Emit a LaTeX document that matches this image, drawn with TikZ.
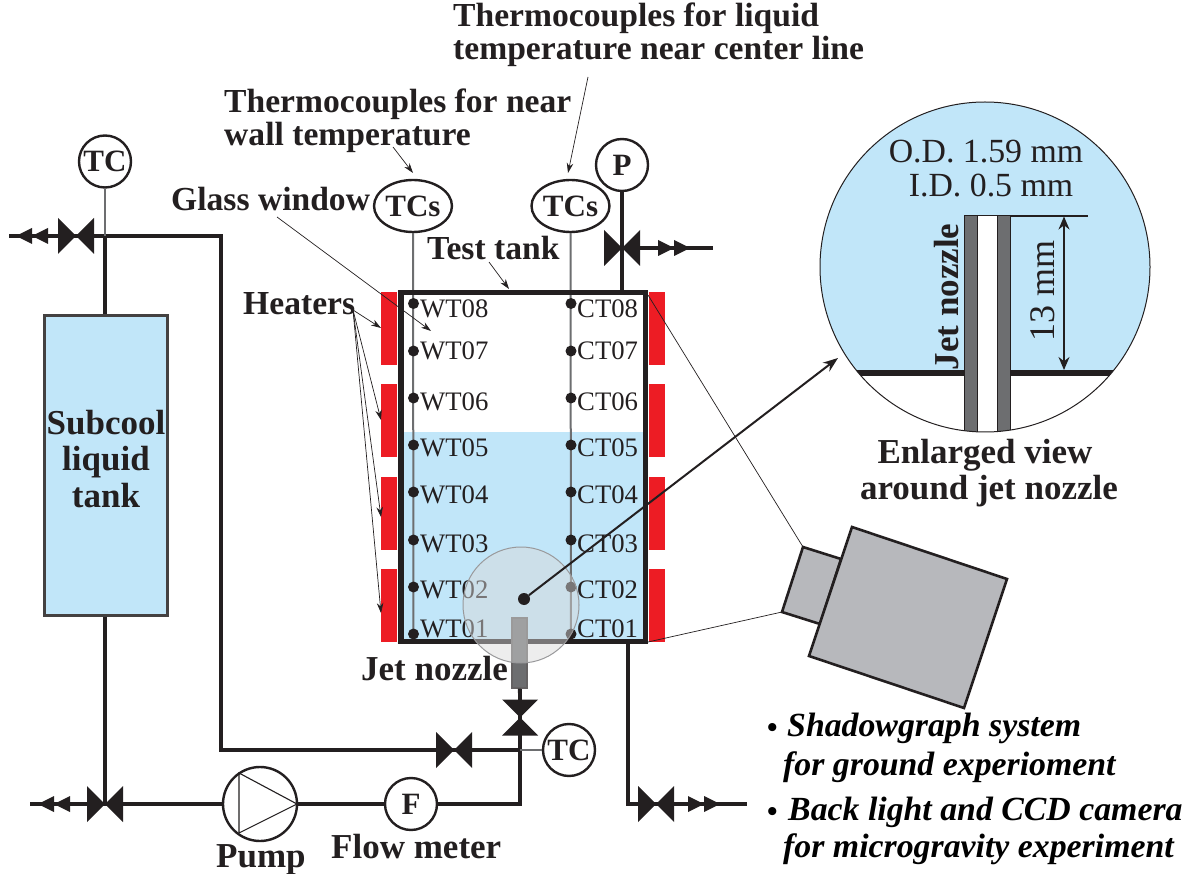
\documentclass[tikz,border=0pt]{standalone}
\usepackage{fontspec}
\setmainfont{Liberation Serif}
\usetikzlibrary{arrows.meta,shapes.geometric}
\definecolor{ink}{HTML}{231F20}
\definecolor{water}{HTML}{C1E6F9}
\definecolor{heat}{HTML}{ED1C24}
\definecolor{wiregray}{HTML}{6D6E70}
\definecolor{camgray}{HTML}{B7B8BC}
\tikzset{
  pipe/.style={draw=ink,line width=3.4pt},
  wire/.style={draw=wiregray,line width=2pt},
  lead/.style={draw=ink,line width=0.7pt,-{Stealth[length=10pt,width=6.5pt]}},
  thinlead/.style={draw=ink,line width=0.7pt},
  inst/.style={circle,draw=ink,line width=2.4pt,fill=white,minimum size=52pt,inner sep=0pt,font=\fontsize{31}{31}\selectfont\bfseries,text=ink},
  instell/.style={ellipse,draw=ink,line width=2.4pt,fill=white,minimum width=74pt,minimum height=52pt,inner sep=0pt,font=\fontsize{31}{31}\selectfont\bfseries,text=ink},
  blab/.style={anchor=base west,inner sep=0pt,text=ink,font=\fontsize{33.6}{33.6}\selectfont\bfseries},
  bigb/.style={font=\fontsize{35}{35}\selectfont\bfseries},
  cblab/.style={anchor=base,inner sep=0pt,text=ink,font=\fontsize{35}{35}\selectfont\bfseries},
  ilab/.style={anchor=base west,inner sep=0pt,text=black,font=\fontsize{33.8}{33.8}\selectfont\bfseries\itshape},
  bullab/.style={anchor=base west,inner sep=0pt,text=black,font=\fontsize{30}{30}\selectfont\bfseries},
  tclab/.style={anchor=base west,inner sep=0pt,text=ink,font=\fontsize{26.7}{26.7}\selectfont},
  rmlab/.style={anchor=base,inner sep=0pt,text=ink,font=\fontsize{33.8}{33.8}\selectfont},
  tdot/.style={circle,fill=ink,inner sep=0pt,minimum size=11pt},
  heater/.style={fill=heat,draw=none},
  pics/valveh/.style={code={\fill[ink] (-18,-18) -- (0,0) -- (-18,18) -- cycle; \fill[ink] (18,-18) -- (0,0) -- (18,18) -- cycle;}},
  pics/valvev/.style={code={\fill[ink] (-18,-18) -- (0,0) -- (18,-18) -- cycle; \fill[ink] (-18,18) -- (0,0) -- (18,18) -- cycle;}},
  pics/flowl/.style={code={\fill[ink] (0,0) -- (16,-8) -- (16,8) -- cycle; \fill[ink] (16,0) -- (32,-8) -- (32,8) -- cycle;}},
  pics/flowr/.style={code={\fill[ink] (0,-8) -- (16,0) -- (0,8) -- cycle; \fill[ink] (16,-8) -- (32,0) -- (16,8) -- cycle;}},
}
\begin{document}
\begin{tikzpicture}[x=1pt,y=-1pt]
\useasboundingbox (0,0) rectangle (1189,874);
% junction coordinates
\coordinate (supL) at (9,236);
\coordinate (supC) at (105,236);
\coordinate (supR) at (221,236);
\coordinate (retL) at (221,750);
\coordinate (retJ) at (520,750);
\coordinate (botL) at (30,804);
\coordinate (botJ) at (105,804);
\coordinate (botR) at (520,804);
\coordinate (pEnd) at (713,248);
\coordinate (pJ) at (622,248);
\coordinate (drJ) at (628,804);
\coordinate (drE) at (747,804);
% test tank interior
\fill[water] (402,432) rectangle (645,641);
\foreach \x/\y in {381/292,381/384,381/477,381/569,649/292,649/384,649/477,649/569}
  \fill[heater] (\x,\y) rectangle +(16,73);
% subcool tank
\node[draw=ink!85!white,line width=3pt,fill=water,minimum width=123pt,minimum height=299pt,inner sep=0pt] (sub) at (105.5,465.5) {};
\node[cblab] (subA) at (106,435) {Subcool};
\node[cblab] (subB) at (106,471) {liquid};
\node[cblab] (subC) at (106,507) {tank};
% instruments
\node[inst] (tcA) at (105,161.5) {TC};
\node[inst] (tcB) at (569,750) {TC};
\node[inst] (pres) at (622,165) {P};
\node[inst] (flow) at (411,804) {F};
\node[instell] (tcsL) at (413,206) {TCs};
\node[instell] (tcsR) at (570.5,206) {TCs};
\node[circle,draw=ink,line width=2.4pt,fill=white,minimum size=74pt,inner sep=0pt] (pump) at (260,804) {};
\draw[ink,line width=1.1pt] (239,773) -- (239,833) -- (297,804) -- cycle;
% tank placeholder for connections
\coordinate (tankTopP) at (622,293);
\coordinate (tankBot) at (628,641);
% pipes
\draw[pipe] (supL) -- (supR) -- (retL) -- (retJ);
\draw[pipe] (supC) -- (sub.north -| supC);
\draw[pipe] (sub.south -| botJ) -- (botJ);
\draw[pipe] (botL) -- (pump.west);
\draw[pipe] (pump.east) -- (flow.west);
\draw[pipe] (flow.east) -- (botR) -- (520,688);
\draw[pipe] (pres.south) -- (tankTopP);
\draw[pipe] (pJ) -- (pEnd);
\draw[pipe] (tankBot) -- (drJ) -- (drE);
\draw[wire] (tcA.south) -- (supC);
\draw[wire] (tcB.west) -- (retJ);
% valves
\pic at (76,236) {valveh};
\pic at (105,804) {valveh};
\pic at (454,750) {valveh};
\pic at (622,248) {valveh};
\pic at (656,804) {valveh};
\pic at (520,717.5) {valvev};
\pic at (16,236) {flowl};
\pic at (38,804) {flowl};
\pic at (658,248) {flowr};
\pic at (688,804) {flowr};
% wires
\draw[wire] (tcsL.south) -- (413.5,634);
\draw[wire] (tcsR.south) -- (571,634);
% thermocouple points
\foreach \n/\d/\b in {8/303.5/318,7/351/360,6/398/411,5/445/456.5,4/492/503.5,3/540/552,2/587/598,1/634/637}{
  \node[tdot] (w\n) at (413.5,\d) {};
  \node[tdot] (c\n) at (571,\d) {};
  \node[tclab] (wl\n) at (420,\b) {WT0\n};
  \node[tclab] (cl\n) at (577,\b) {CT0\n};
}
% tank wall
\draw[ink,line width=5.5pt,miter limit=10] (401,292.5) rectangle (645.5,641.5);
% nozzle
\node[draw=ink!70!white,line width=1.2pt,fill=wiregray,minimum width=15pt,minimum height=70pt,inner sep=0pt] (noz) at (519.5,653) {};
\draw[pipe] (noz.south) -- (520,700);
% magnifier
\node[circle,draw=wiregray!70!white,line width=1pt,fill={rgb:white,85;black,15},fill opacity=.47,minimum size=116pt,inner sep=0pt] (lens) at (521,605) {};
\node[circle,fill=ink,inner sep=0pt,minimum size=12pt] (ldot) at (524,599) {};
% enlarged view
\coordinate (encenter) at (985,267);
\begin{scope}
\clip (encenter) circle (165);
\fill[water] (800,90) rectangle (1170,373);
\fill[ink] (850,370) rectangle (1120,376);
\fill[wiregray] (964,216) rectangle (1010,440);
\fill[white] (977,216) rectangle (997,440);
\draw[ink,line width=1pt] (964,216) -- (964,440) (1010,216) -- (1010,440) (977,216) -- (977,440) (997,216) -- (997,440);
\draw[ink,line width=1pt] (964,216) -- (1010,216);
\end{scope}
\node[circle,draw=ink,line width=1pt,minimum size=330pt,inner sep=0pt] (enl) at (encenter) {};
\coordinate (dimT) at (1064,216.5);
\coordinate (dimB) at (1064,370);
\coordinate (bigTip) at (838,358);
\draw[ink,line width=1.2pt] (1010,216) -- (1088,216);
\draw[ink,line width=1.4pt,{Stealth[length=13pt,width=11pt]}-{Stealth[length=13pt,width=11pt]}] (dimT) -- (dimB);
\node[rmlab] (od) at (986,163) {O.D. 1.59 mm};
\node[rmlab] (id) at (991,197) {I.D. 0.5 mm};
\node[rmlab,rotate=90,font=\fontsize{36}{36}\selectfont] (dim13) at (1054,291) {13 mm};
\node[cblab,rotate=90] (jetB) at (958,297) {Jet nozzle};
\node[cblab] (enA) at (985,464) {Enlarged view};
\node[cblab] (enB) at (989,499) {around jet nozzle};
\draw[ink,line width=2pt,-{Stealth[length=15pt,width=11pt]}] (ldot) -- (bigTip);
% camera
\draw[ink,line width=2.6pt,fill=camgray,line join=miter] (803,547) -- (841,559) -- (820,624) -- (782,612) -- cycle;
\draw[ink,line width=2.6pt,fill=camgray,line join=miter] (852,527) -- (1007,579) -- (964,708) -- (809,656) -- cycle;
\coordinate (camT) at (803,547);
\coordinate (camB) at (782,612);
\coordinate (tankTR) at (648,295);
\coordinate (tankBR) at (648,642);
\draw[thinlead] (tankTR) -- (camT);
\draw[thinlead] (tankBR) -- (camB);
% labels
\node[blab] (thA) at (453,27) {Thermocouples for liquid};
\node[blab] (thB) at (453,60) {temperature near center line};
\node[blab] (thC) at (224,113) {Thermocouples for near};
\node[blab] (thD) at (224,146) {wall temperature};
\node[blab] (glass) at (171,211) {Glass window};
\node[blab] (heatl) at (243,315) {Heaters};
\node[blab] (testt) at (427,260) {Test tank};
\node[blab,bigb] (jetA) at (361,680) {Jet nozzle};
\node[blab,bigb] (pumpl) at (216,867) {Pump};
\node[blab,bigb] (flowl) at (331,858) {Flow meter};
\node[bullab] (bulA) at (767,737) {•};
\node[ilab] (shA) at (787,736) {Shadowgraph system};
\node[ilab] (shB) at (783,775) {for ground experioment};
\node[bullab] (bulB) at (767,821) {•};
\node[ilab] (shC) at (788,820) {Back light and CCD camera};
\node[ilab] (shD) at (783,857) {for microgravity experiment};
% leader arrows
\coordinate (hs) at (353,310);
\coordinate (nwS) at (393,147);
\coordinate (ccS) at (588,77);
\coordinate (ttS) at (489,262);
\coordinate (gwS) at (277,217);
\coordinate (h1) at (381,328);
\coordinate (h2) at (381,420);
\coordinate (h3) at (381,517);
\coordinate (h4) at (381,613);
\coordinate (nwE) at (413,173);
\coordinate (ccE) at (568,173);
\coordinate (ttE) at (509,289);
\coordinate (gwE) at (431,331);
\foreach \e in {h1,h2,h3,h4} \draw[lead] (hs) -- (\e);
\draw[lead] (nwS) -- (nwE);
\draw[lead] (ccS) -- (ccE);
\draw[lead] (ttS) -- (ttE);
\draw[lead] (gwS) -- (gwE);
\end{tikzpicture}
\end{document}
